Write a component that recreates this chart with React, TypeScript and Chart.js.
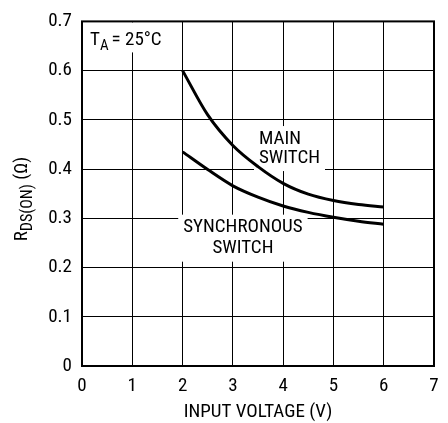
import React, { useEffect, useRef } from "react";
import { Chart, registerables } from "chart.js";

Chart.register(...registerables);

const inputVoltage = [2, 2.5, 3, 3.5, 4, 4.5, 5, 5.5, 6];
const mainSwitch = [0.6, 0.51, 0.448, 0.405, 0.371, 0.349, 0.336, 0.328, 0.323];
const syncSwitch = [0.435, 0.399, 0.366, 0.343, 0.325, 0.312, 0.302, 0.294, 0.288];
const xTicks = [0, 1, 2, 3, 4, 5, 6, 7];
const yTicks = [0, 0.1, 0.2, 0.3, 0.4, 0.5, 0.6, 0.7];

const FONT = "'Liberation Sans Narrow', 'Arial Narrow', 'Roboto Condensed', 'Liberation Sans', sans-serif";

const overlayPlugin = {
  id: "overlay",
  beforeDatasetsDraw(chart: any) {
    const { ctx, scales, chartArea } = chart;
    const xs = scales.x;
    const ys = scales.y;
    ctx.save();
    ctx.font = `19px ${FONT}`;
    ctx.textBaseline = "middle";
    const boxText = (lines: string[], cx: number, cy: number, align: "left" | "center", lh: number) => {
      const widths = lines.map((l) => ctx.measureText(l).width);
      const w = Math.max(...widths);
      const left = align === "center" ? cx - w / 2 : cx;
      ctx.fillStyle = "#fff";
      ctx.fillRect(left - 5, cy - 13, w + 10, (lines.length - 1) * lh + 26);
      ctx.fillStyle = "#000";
      lines.forEach((l, i) => {
        ctx.textAlign = align;
        ctx.fillText(l, cx, cy + i * lh);
      });
    };
    boxText(["MAIN", "SWITCH"], xs.getPixelForValue(3.52), ys.getPixelForValue(0.461), "left", 19);
    boxText(["SYNCHRONOUS", "SWITCH"], xs.getPixelForValue(3.2), ys.getPixelForValue(0.281), "center", 21);

    // T_A box
    ctx.fillStyle = "#fff";
    ctx.fillRect(chartArea.left + 1, chartArea.top + 1, 90, 30);
    ctx.restore();
  },
  afterDraw(chart: any) {
    const { ctx, chartArea } = chart;
    ctx.save();
    ctx.strokeStyle = "#000";
    ctx.lineWidth = 2;
    ctx.strokeRect(chartArea.left, chartArea.top, chartArea.right - chartArea.left, chartArea.bottom - chartArea.top);

    ctx.fillStyle = "#000";
    ctx.textBaseline = "alphabetic";
    ctx.textAlign = "left";
    ctx.font = `19px ${FONT}`;
    let x = chartArea.left + 8;
    const base = chartArea.top + 24;
    ctx.fillText("T", x, base);
    x += ctx.measureText("T").width;
    ctx.font = `15px ${FONT}`;
    ctx.fillText("A", x, base + 5);
    x += ctx.measureText("A").width + 3;
    ctx.font = `19px ${FONT}`;
    ctx.fillText("= 25°C", x, base);

    // x title
    ctx.textAlign = "center";
    ctx.textBaseline = "middle";
    ctx.font = `19px ${FONT}`;
    ctx.fillText("INPUT VOLTAGE (V)", 258, 412);

    // y title rotated with subscript
    ctx.translate(21, 199);
    ctx.rotate(-Math.PI / 2);
    ctx.textBaseline = "alphabetic";
    ctx.textAlign = "left";
    const parts: [string, number, number][] = [
      ["R", 19, 0],
      ["DS(ON)", 16, 5],
      [" (Ω)", 19, 0],
    ];
    let total = 0;
    parts.forEach(([t, s]) => {
      ctx.font = `${s}px ${FONT}`;
      total += ctx.measureText(t).width;
    });
    let px = -total / 2;
    parts.forEach(([t, s, dy]) => {
      ctx.font = `${s}px ${FONT}`;
      ctx.fillText(t, px, 6 + dy);
      px += ctx.measureText(t).width;
    });
    ctx.restore();
  },
};

export default function App() {
  const ref = useRef<HTMLCanvasElement>(null);
  useEffect(() => {
    if (!ref.current) return;
    const chart = new Chart(ref.current, {
      type: "line",
      data: {
        datasets: [
          {
            label: "MAIN SWITCH",
            data: inputVoltage.map((v, i) => ({ x: v, y: mainSwitch[i] })),
            borderColor: "#000",
            borderWidth: 3,
            pointRadius: 0,
            cubicInterpolationMode: "monotone",
            fill: false,
          },
          {
            label: "SYNCHRONOUS SWITCH",
            data: inputVoltage.map((v, i) => ({ x: v, y: syncSwitch[i] })),
            borderColor: "#000",
            borderWidth: 3,
            pointRadius: 0,
            cubicInterpolationMode: "monotone",
            fill: false,
          },
        ],
      },
      options: {
        animation: false,
        responsive: false,
        maintainAspectRatio: false,
        layout: { padding: { left: 0, top: 15, right: 14, bottom: 0 } },
        plugins: { legend: { display: false }, tooltip: { enabled: false } },
        scales: {
          x: {
            type: "linear",
            min: 0,
            max: 7,
            afterBuildTicks: (s: any) => {
              s.ticks = xTicks.map((v) => ({ value: v }));
            },
            afterFit: (s: any) => {
              s.height = 57;
            },
            ticks: {
              color: "#000",
              font: { family: FONT, size: 19 },
              padding: 9,
              maxRotation: 0,
              autoSkip: false,
              callback: (v: any) => String(v),
            },
            grid: { color: "#000", lineWidth: 1, drawTicks: false },
            border: { display: false },
          },
          y: {
            type: "linear",
            min: 0,
            max: 0.7,
            afterBuildTicks: (s: any) => {
              s.ticks = yTicks.map((v) => ({ value: v }));
            },
            afterFit: (s: any) => {
              s.width = 82;
            },
            ticks: {
              color: "#000",
              font: { family: FONT, size: 19 },
              padding: 10,
              autoSkip: false,
              callback: (v: any) => (v === 0 ? "0" : Number(v).toFixed(1)),
            },
            grid: { color: "#000", lineWidth: 1, drawTicks: false },
            border: { display: false },
          },
        },
      },
      plugins: [overlayPlugin],
    } as any);
    return () => chart.destroy();
  }, []);
  return (
    <div style={{ position: "fixed", left: 0, top: 0, width: 448, height: 423, background: "#fff" }}>
      <canvas ref={ref} width={448} height={423} style={{ width: 448, height: 423 }} />
    </div>
  );
}
